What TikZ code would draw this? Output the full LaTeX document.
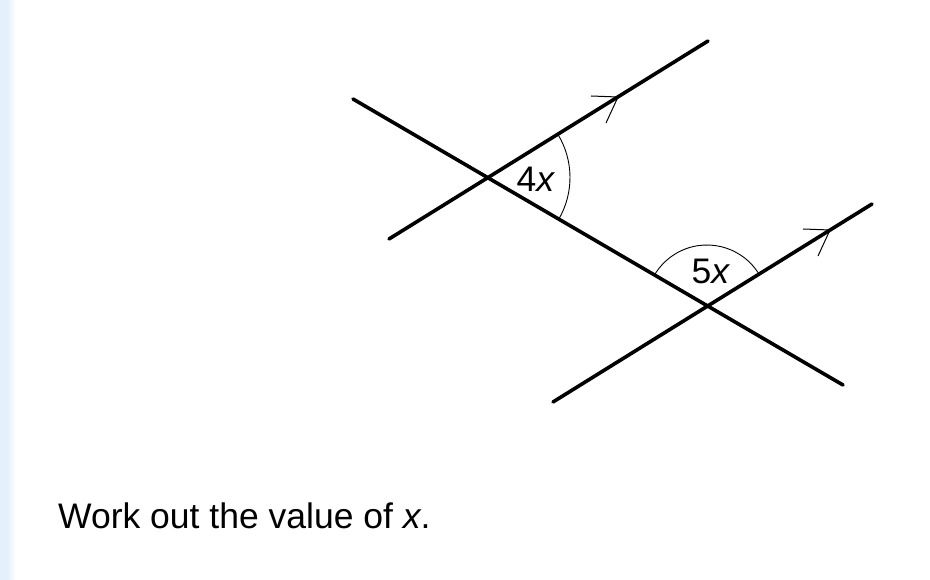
\documentclass[tikz,border=0pt]{standalone}
\usepackage{fontspec}
\setmainfont{Liberation Sans}
\usetikzlibrary{angles}

\definecolor{stripblue}{HTML}{E4F1FC}

\tikzset{
    thick line/.style={line width=3.6pt, line cap=round},
    arrow mark/.style={line width=1pt},
    angle arc/.style={draw, line width=0.9pt},
    label/.style={font=\fontsize{35.5}{40}\selectfont, inner sep=0pt}
}

\begin{document}
\begin{tikzpicture}[x=1pt, y=-1pt]
    \useasboundingbox (0,0) rectangle (930,580);
    \fill[stripblue] (0,0) rectangle (7,580);
    \shade[left color=stripblue, right color=white] (7,0) rectangle (16,580);

    % ends of the lines
    \coordinate (t1) at (353,99);
    \coordinate (t2) at (843,385);
    \coordinate (p1) at (389,239);
    \coordinate (p2) at (708,41);
    \coordinate (q1) at (553,402);
    \coordinate (q2) at (872,204);
    % crossing points
    \coordinate (a) at (487,177.5);
    \coordinate (b) at (707,306);

    \draw[thick line] (t1) -- (t2);
    \draw[thick line] (p1) -- (p2);
    \draw[thick line] (q1) -- (q2);

    % parallel marks
    \coordinate (m1) at (618,97);
    \coordinate (m2) at (830,230);
    \draw[arrow mark] (m1) ++(-27,-1) -- (m1) -- ++(-12,26);
    \draw[arrow mark] (m2) ++(-27,-1) -- (m2) -- ++(-12,26);

    % angles
    \pic[angle arc, angle radius=83pt] {angle = t2--a--p2};
    \pic[angle arc, angle radius=61pt] {angle = q2--b--t1};

    \node[label] (la) at (536,179) {4\textit{x}};
    \node[label] (lb) at (711,271) {5\textit{x}};

    \node[label, anchor=base west] (q) at (58,528) {Work out the value of \textit{x}.};
\end{tikzpicture}
\end{document}
